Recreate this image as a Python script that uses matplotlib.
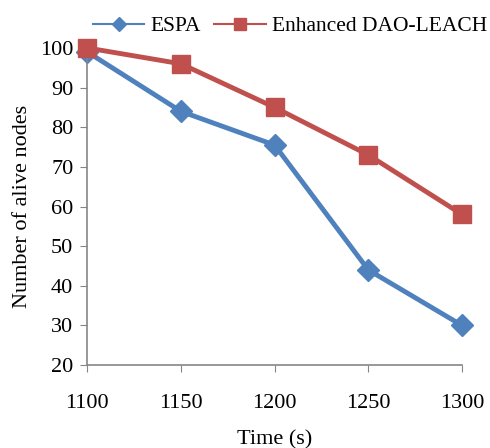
import numpy as np
import matplotlib.pyplot as plt
from matplotlib.lines import Line2D

### DATOS
### ------------------

time_s = [1100, 1150, 1200, 1250, 1300]
espa = [99, 84, 75.5, 44, 30]
dao_leach = [100, 96, 85, 73, 58]

x_ticks = [1100, 1150, 1200, 1250, 1300]
y_ticks = [20, 30, 40, 50, 60, 70, 80, 90, 100]

blue = '#4F81BD'
red = '#C0504D'

### GRAFICA
### ------------------

plt.rcParams['font.family'] = ['Liberation Serif', 'DejaVu Serif']

fig = plt.figure(figsize=(4.9, 4.48), dpi=100)
ax = fig.add_axes([0.178, 0.185, 0.765, 0.708])

# ESPA debajo: en 1100 el cuadrado rojo la tapa
ax.plot(time_s, espa, color=blue, lw=3.5, marker='D', markersize=11,
        clip_on=False, zorder=2)
ax.plot(time_s, dao_leach, color=red, lw=3.5, marker='s', markersize=13,
        clip_on=False, zorder=3)

ax.set_xlim(1100, 1300)
ax.set_ylim(20, 100)
ax.set_xticks(x_ticks)
ax.set_yticks(y_ticks)

for side in ['top', 'right']:
    ax.spines[side].set_visible(False)
for side in ['left', 'bottom']:
    ax.spines[side].set_color('#868686')
    ax.spines[side].set_linewidth(1.2)

ax.tick_params(axis='both', direction='out', color='#868686', length=5,
               labelsize=16)
ax.tick_params(axis='x', pad=16)
ax.tick_params(axis='y', pad=5)

ax.set_xlabel('Time (s)', fontsize=16, labelpad=12)
ax.set_ylabel('Number of alive nodes', fontsize=16, labelpad=6)

# Leyenda con lineas finas como en el original
legend_handles = [
    Line2D([], [], color=blue, lw=1.5, marker='D', markersize=7),
    Line2D([], [], color=red, lw=1.5, marker='s', markersize=8),
]
ax.legend(legend_handles, ['ESPA', 'Enhanced DAO-LEACH'], loc='lower center',
          bbox_to_anchor=(0.541, 1.01), ncol=2, frameon=False, fontsize=15.5,
          handlelength=2.4, columnspacing=0.6, handletextpad=0.3,
          borderaxespad=0.0)

fig.savefig('out.png', dpi=100)
